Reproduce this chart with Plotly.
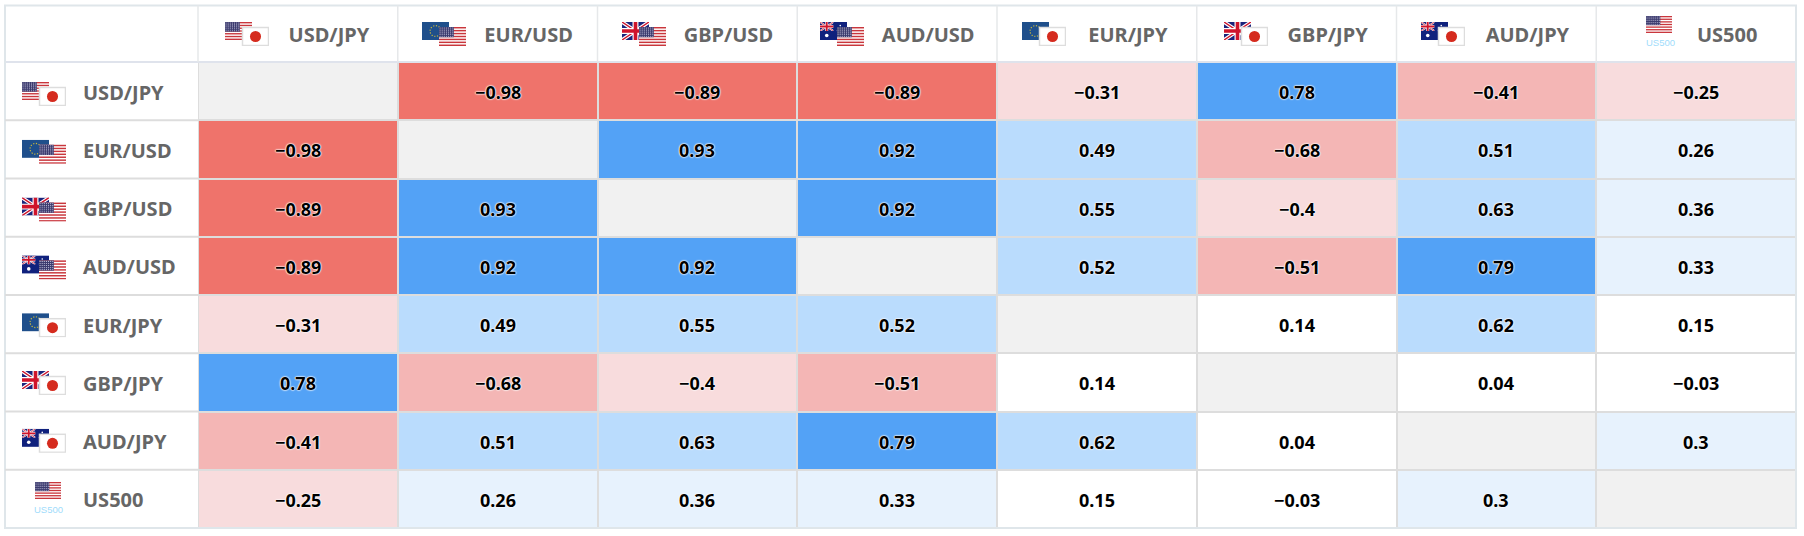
import base64
import plotly.graph_objects as go

W, H = 1804, 536
labels = ["USD/JPY", "EUR/USD", "GBP/USD", "AUD/USD", "EUR/JPY", "GBP/JPY", "AUD/JPY", "US500"]
row_usdjpy = [None, -0.98, -0.89, -0.89, -0.31, 0.78, -0.41, -0.25]
row_eurusd = [-0.98, None, 0.93, 0.92, 0.49, -0.68, 0.51, 0.26]
row_gbpusd = [-0.89, 0.93, None, 0.92, 0.55, -0.4, 0.63, 0.36]
row_audusd = [-0.89, 0.92, 0.92, None, 0.52, -0.51, 0.79, 0.33]
row_eurjpy = [-0.31, 0.49, 0.55, 0.52, None, 0.14, 0.62, 0.15]
row_gbpjpy = [0.78, -0.68, -0.4, -0.51, 0.14, None, 0.04, -0.03]
row_audjpy = [-0.41, 0.51, 0.63, 0.79, 0.62, 0.04, None, 0.3]
row_us500 = [-0.25, 0.26, 0.36, 0.33, 0.15, -0.03, 0.3, None]
values = [row_usdjpy, row_eurusd, row_gbpusd, row_audusd, row_eurjpy, row_gbpjpy, row_audjpy, row_us500]

# geometry in px
L, R, T, B = 198.0, 1796.0, 62.0, 528.0
OL, OT = 5.0, 5.5
PW, PH = R - L, B - T
fx = lambda p: (p - L) / PW
fy = lambda p: (B - p) / PH

def shade(v):
    if v is None:
        return None
    if v >= 0.7: return 3
    if v >= 0.45: return 2
    if v >= 0.2: return 1
    if v > -0.2: return 0
    if v >= -0.4: return -1
    if v >= -0.7: return -2
    return -3

steps = []
cols = ["#ef736b", "#f4b6b5", "#f8dcdd", "#ffffff", "#e7f2fd", "#badcfd", "#53a2f6"]
for i, c in enumerate(cols):
    steps += [(i / 7, c), ((i + 1) / 7, c)]

z = [[shade(v) for v in r] for r in values]
diag = [[1 if v is None else None for v in r] for r in values]

FONT = "Noto Sans"
fig = go.Figure()
fig.add_trace(go.Heatmap(x=labels, y=labels, z=diag, colorscale=[(0, "#f1f1f1"), (1, "#f1f1f1")],
                         showscale=False, xgap=2, ygap=2, hoverinfo="skip"))
fig.add_trace(go.Heatmap(x=labels, y=labels, z=z, zmin=-3.5, zmax=3.5, colorscale=steps, showscale=False,
                         xgap=2, ygap=2, hoverinfo="skip"))

def us(x, y, w, h):
    s = f'<rect x="{x}" y="{y}" width="{w}" height="{h}" fill="#fff"/>'
    for i in range(7):
        s += f'<rect x="{x}" y="{y+i*2*h/13}" width="{w}" height="{h/13}" fill="#c9363c"/>'
    s += f'<rect x="{x}" y="{y}" width="{w*0.55}" height="{h*7/13}" fill="#3c3b6e"/>'
    for i in range(5):
        for j in range(7):
            s += f'<circle cx="{x+w*0.55*(j+.5)/7}" cy="{y+h*7/13*(i+.5)/5}" r="{h*0.03}" fill="#c8c8e0"/>'
    return s
def jp(x, y, w, h):
    return (f'<rect x="{x+.5}" y="{y+.5}" width="{w-1}" height="{h-1}" fill="#fff" stroke="#ddd" stroke-width="1.5"/>'
            f'<circle cx="{x+w/2}" cy="{y+h/2}" r="{h*0.29}" fill="#d52b1e"/>')
def uk_part(x, y, w, h):
    return (f'<svg x="{x}" y="{y}" width="{w}" height="{h}" viewBox="0 0 {w} {h}">'
            f'<rect width="{w}" height="{h}" fill="#1a237b"/>'
            f'<path d="M0,0L{w},{h}M{w},0L0,{h}" stroke="#fff" stroke-width="{h*.2}"/>'
            f'<path d="M0,0L{w},{h}M{w},0L0,{h}" stroke="#cf142b" stroke-width="{h*.08}"/>'
            f'<path d="M{w/2},0V{h}M0,{h/2}H{w}" stroke="#fff" stroke-width="{h*.33}"/>'
            f'<path d="M{w/2},0V{h}M0,{h/2}H{w}" stroke="#cf142b" stroke-width="{h*.2}"/></svg>')
def eu(x, y, w, h):
    s = f'<rect x="{x}" y="{y}" width="{w}" height="{h}" fill="#1f4f8b"/>'
    s += f'<circle cx="{x+w/2}" cy="{y+h/2}" r="{h*.3}" fill="none" stroke="#c9b83c" stroke-width="1.2" stroke-dasharray="1.2 1.6"/>'
    return s
def au(x, y, w, h):
    s = f'<rect x="{x}" y="{y}" width="{w}" height="{h}" fill="#10217d"/>'
    s += uk_part(x, y, w / 2, h / 2)
    s += f'<circle cx="{x+w*.25}" cy="{y+h*.75}" r="{h*.1}" fill="#fff"/>'
    for cx, cy in [(.75, .2), (.87, .4), (.75, .8), (.65, .48)]:
        s += f'<circle cx="{x+w*cx}" cy="{y+h*cy}" r="{h*.045}" fill="#fff"/>'
    return s
BASE = {"USD": us, "EUR": eu, "GBP": uk_part, "AUD": au}
QUOTE = {"USD": us, "JPY": jp}
def flag_svg(name):
    if name == "US500":
        body = us(0, 0, 26, 17)
        w_, h_ = 26, 17
    else:
        a, b = name.split("/")
        body = BASE[a](0, 0, 27, 18) + QUOTE[b](17, 5, 27, 19)
        w_, h_ = 44, 24
    svg = f'<svg xmlns="http://www.w3.org/2000/svg" width="{w_}" height="{h_}" viewBox="0 0 {w_} {h_}">{body}</svg>'
    return "data:image/svg+xml;base64," + base64.b64encode(svg.encode()).decode(), w_, h_

images, annots = [], []
colw = PW / 8
rowh = PH / 8
HEADER_FLAG_LEFT = [225, 422, 622, 820, 1022, 1224, 1421, 1646]
HALO = "0 0 2px #fff,0 0 2px #fff,0 0 1px #fff,0 0 1px #fff"
for i, n in enumerate(labels):
    src, w_, h_ = flag_svg(n)
    top = 82 + i * 57.8 if n != "US500" else 482
    left = 22 if n != "US500" else 35
    leftc = HEADER_FLAG_LEFT[i]
    topc = 22 if n != "US500" else 16
    for xx, yy in [(left, top), (leftc, topc)]:
        images.append(dict(source=src, xref="paper", yref="paper", x=fx(xx), y=fy(yy), sizex=w_ / PW, sizey=h_ / PH,
                           xanchor="left", yanchor="top", sizing="stretch", layer="above"))
    annots.append(dict(text=n, xref="paper", yref="y", x=fx(81), y=n, yshift=-1, showarrow=False,
                       xanchor="left", yanchor="middle",
                       font=dict(family=FONT, size=20, color="#666666", weight="bold")))
    for j, m in enumerate(labels):
        v = values[i][j]
        if v is not None:
            annots.append(dict(text=str(v).replace("-", "\u2212"), x=m, y=n, xref="x", yref="y", yshift=-1,
                               showarrow=False, xanchor="center", yanchor="middle",
                               font=dict(family=FONT, size=18, color="#000000", weight="bold", shadow=HALO)))
    if n == "US500":
        for (xx, yy) in [(left + 13, top + 27), (leftc + 14, topc + 27)]:
            annots.append(dict(text="US500", xref="paper", yref="paper", x=fx(xx), y=fy(yy), showarrow=False,
                               xanchor="center", yanchor="middle",
                               font=dict(family="Liberation Sans", size=9.5, color="#9fdcfb")))

shapes = [
    dict(type="rect", xref="paper", yref="paper", x0=fx(OL), x1=fx(R), y0=fy(OT), y1=fy(B), fillcolor="rgba(0,0,0,0)",
         line=dict(color="#dfe6ea", width=2), layer="above"),
    dict(type="line", xref="paper", yref="paper", x0=fx(OL), x1=fx(R), y0=fy(T), y1=fy(T), line=dict(color="#dfe3ec", width=2), layer="below"),
]
for i in range(8):
    x = L + i * colw
    shapes.append(dict(type="line", xref="paper", yref="paper", x0=fx(x), x1=fx(x), y0=fy(OT), y1=fy(T),
                       line=dict(color="#e6e8ea", width=1.5)))
for j in range(1, 8):
    y = T + j * rowh
    shapes.append(dict(type="line", xref="paper", yref="paper", x0=fx(OL), x1=fx(L), y0=fy(y), y1=fy(y),
                       line=dict(color="#dddddd", width=2)))

fig.update_layout(
    width=W, height=H, autosize=False,
    margin=dict(l=L, r=W - R, t=T, b=H - B, pad=0, autoexpand=False),
    paper_bgcolor="#ffffff", plot_bgcolor="#dddddd", showlegend=False,
    images=images, annotations=annots, shapes=shapes,
    xaxis=dict(type="category", side="top", range=[-0.5, 7.5], showgrid=False, zeroline=False, ticks="", showline=False,
               tickfont=dict(family=FONT, size=20, color="#666666", weight="bold"), ticklabelshift=31,
               ticklabelstandoff=15, automargin=False, categoryorder="array", categoryarray=labels, fixedrange=True),
    yaxis=dict(type="category", autorange=False, range=[7.5, -0.5], showgrid=False, zeroline=False, ticks="", showline=False,
               showticklabels=False, automargin=False, categoryorder="array", categoryarray=labels, fixedrange=True),
)
fig.write_html("out.html", config=dict(displayModeBar=False),
               post_script="document.body.style.margin='0';document.body.style.overflow='hidden';")
